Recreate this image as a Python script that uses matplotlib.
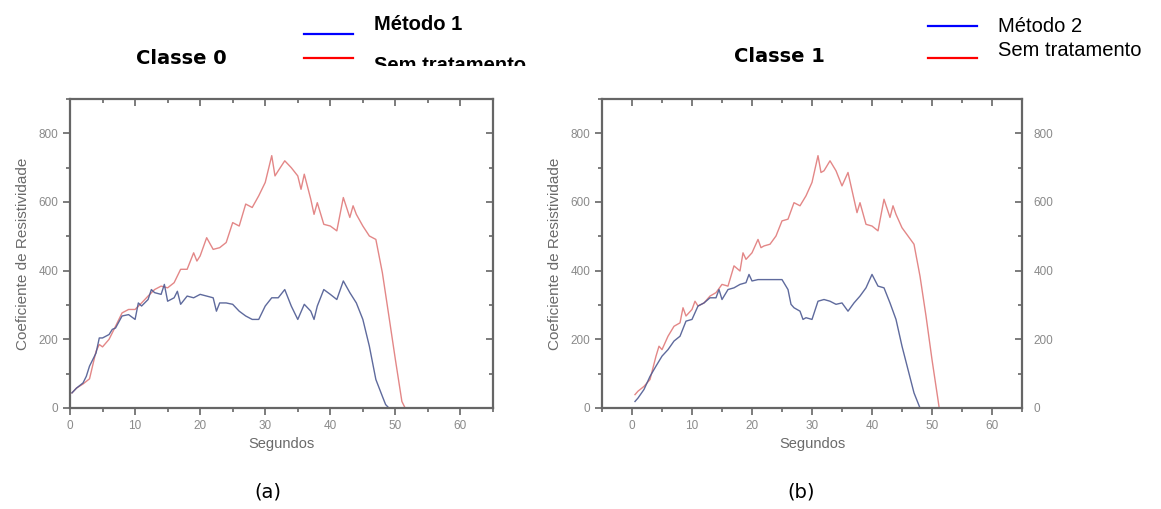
import matplotlib
matplotlib.use("Agg")
import matplotlib.pyplot as plt
from matplotlib.lines import Line2D
from matplotlib.ticker import MultipleLocator
from matplotlib.transforms import Bbox, TransformedBbox

# ── Data ──
# Classe 0, "Sem tratamento"
x_sem0 = [0.3, 1, 2, 3, 4, 4.5, 5, 6, 7, 8, 9, 10, 11, 12, 13, 14, 15, 16, 17, 18,
          19, 19.5, 20, 21, 22, 23, 24, 25, 26, 27, 28, 29, 30, 31, 31.5, 32, 33, 34,
          35, 35.5, 36, 37, 37.5, 38, 39, 40, 41, 42, 43, 43.5, 44, 45, 46, 47, 48,
          49, 50, 51, 51.5]
y_sem0 = [44, 58, 70, 85, 165, 185, 178, 200, 238, 277, 287, 287, 306, 326, 345, 355,
          350, 365, 404, 404, 452, 428, 443, 496, 462, 467, 482, 540, 530, 594, 584,
          618, 657, 735, 676, 691, 720, 700, 676, 637, 681, 608, 564, 598, 535, 530,
          516, 613, 555, 589, 564, 530, 501, 491, 394, 268, 141, 19, 0]

# Classe 0, "Método 1"
x_met1 = [0.3, 1, 2, 2.5, 3, 4, 4.5, 5, 6, 6.5, 7, 8, 9, 10, 10.5, 11, 12, 12.5, 13,
          14, 14.5, 15, 16, 16.5, 17, 18, 19, 20, 21, 22, 22.5, 23, 24, 25, 26, 27,
          28, 29, 30, 31, 32, 33, 34, 35, 36, 37, 37.5, 38, 39, 40, 41, 42, 43, 44,
          45, 46, 47, 48, 48.5, 49]
y_met1 = [44, 58, 73, 92, 122, 160, 204, 204, 214, 229, 233, 268, 272, 258, 306, 297,
          316, 345, 336, 331, 360, 311, 321, 340, 302, 326, 321, 331, 326, 321, 282,
          306, 306, 302, 282, 268, 258, 258, 297, 321, 321, 345, 297, 258, 302, 282,
          258, 297, 345, 331, 316, 370, 336, 306, 258, 180, 83, 34, 10, 0]

# Classe 1, "Sem tratamento"
x_sem1 = [0.5, 1, 2, 3, 4, 4.5, 5, 6, 7, 8, 8.5, 9, 10, 10.5, 11, 12, 13, 14, 15, 16,
          17, 18, 18.5, 19, 20, 21, 21.5, 22, 23, 24, 25, 26, 27, 28, 29, 30, 31,
          31.5, 32, 33, 34, 35, 36, 37, 37.5, 38, 39, 40, 41, 42, 43, 43.5, 44, 45,
          46, 47, 48, 49, 50, 51, 51.2]
y_sem1 = [39, 49, 63, 83, 151, 180, 170, 209, 238, 248, 292, 268, 287, 311, 297, 306,
          326, 336, 360, 355, 414, 399, 452, 433, 452, 491, 467, 472, 477, 501, 545,
          550, 598, 589, 618, 657, 735, 686, 691, 720, 691, 647, 686, 608, 569, 598,
          535, 530, 516, 608, 555, 589, 564, 525, 501, 477, 384, 268, 141, 24, 0]

# Classe 1, "Método 2"
x_met2 = [0.5, 1, 2, 3, 4, 5, 6, 7, 8, 9, 10, 11, 12, 13, 14, 14.5, 15, 16, 17, 18,
          19, 19.5, 20, 21, 25, 26, 26.5, 27, 28, 28.5, 29, 30, 31, 32, 33, 34, 35,
          36, 37, 38, 39, 40, 41, 42, 43, 44, 45, 46, 47, 48, 50]
y_met2 = [19, 29, 54, 92, 122, 151, 170, 195, 209, 253, 258, 297, 306, 321, 321, 345,
          316, 345, 350, 360, 365, 389, 370, 374, 374, 345, 302, 292, 282, 258, 263,
          258, 311, 316, 311, 302, 306, 282, 306, 326, 350, 389, 355, 350, 306, 258,
          180, 112, 44, 0, 0]

RED = "#e07a7a"
BLUE = "#4d5a92"
FRAME = "#666666"
TICK_TXT = "#8a8a8a"
LABEL_TXT = "#6a6a6a"

plt.rcParams["font.family"] = ["Liberation Sans", "DejaVu Sans"]

W, H = 1161, 509
fig = plt.figure(figsize=(W / 100, H / 100), dpi=100)
fig.set_facecolor("white")


def px(x, y):
    """Pixel (top-left origin) -> figure fraction."""
    return x / W, 1 - y / H


def make_panel(left, right, xmin, series, right_labels):
    x0, y1 = px(left, 408)
    x1, y0 = px(right, 99)
    ax = fig.add_axes([x0, y1, x1 - x0, y0 - y1])
    for xs, ys, c in series:
        ax.plot(xs, ys, color=c, lw=1.0, alpha=0.9)
    ax.set_xlim(xmin, 65)
    ax.set_ylim(0, 900)
    ax.xaxis.set_major_locator(MultipleLocator(10))
    ax.xaxis.set_minor_locator(MultipleLocator(5))
    ax.yaxis.set_major_locator(MultipleLocator(200))
    ax.yaxis.set_minor_locator(MultipleLocator(100))
    for s in ax.spines.values():
        s.set_color(FRAME)
        s.set_linewidth(1.6)
    ax.tick_params(which="both", color=FRAME, width=1.2, labelsize=8.5,
                   labelcolor=TICK_TXT, top=True, right=True,
                   labelright=right_labels, direction="out")
    ax.tick_params(which="major", length=5)
    ax.tick_params(which="minor", length=3)
    # top / right ticks point inward as in the scan
    for t in ax.xaxis.get_major_ticks() + ax.xaxis.get_minor_ticks():
        t.tick2line.set_marker(3)
    for t in ax.yaxis.get_major_ticks() + ax.yaxis.get_minor_ticks():
        t.tick2line.set_marker(0)
    ax.set_xlabel("Segundos", fontsize=10.5, color=LABEL_TXT, labelpad=4)
    ax.set_ylabel("Coeficiente de Resistividade", fontsize=11,
                  color=LABEL_TXT, labelpad=6)
    return ax


axL = make_panel(70, 493, 0, [(x_sem0, y_sem0, RED), (x_met1, y_met1, BLUE)], False)
axR = make_panel(602, 1022, -5, [(x_sem1, y_sem1, RED), (x_met2, y_met2, BLUE)], True)

# ── Titles ──
fig.text(*px(181, 59), "Classe 0", fontsize=14, fontweight="bold",
         family="DejaVu Sans", ha="center", va="center")
fig.text(*px(779, 57), "Classe 1", fontsize=14, fontweight="bold",
         family="DejaVu Sans", ha="center", va="center")

# ── Legend (left panel, bold) ──
for y, c in [(34, "#0000ff"), (58, "#ff0000")]:
    fig.add_artist(Line2D([304 / W, 353 / W], [1 - y / H, 1 - y / H],
                          color=c, lw=1.6))
fig.text(*px(374, 25), "Método 1", fontsize=14.5, fontweight="bold",
         ha="left", va="center")
t = fig.text(*px(374, 71), "Sem tratamento", fontsize=14.5, fontweight="bold",
             ha="left", va="baseline")
clip = TransformedBbox(Bbox([[0, 1 - 66 / H], [1, 1]]), fig.transFigure)
t.set_clip_box(clip)
t.set_clip_on(True)

# ── Legend (right panel, regular) ──
for y, c in [(26, "#0000ff"), (58, "#ff0000")]:
    fig.add_artist(Line2D([928 / W, 977 / W], [1 - y / H, 1 - y / H],
                          color=c, lw=1.6))
fig.text(*px(998, 26), "Método 2", fontsize=14.5, ha="left", va="center")
fig.text(*px(998, 50), "Sem tratamento", fontsize=14.5, ha="left", va="center")

# ── Panel captions ──
fig.text(*px(268, 492), "(a)", fontsize=14, family="DejaVu Sans",
         ha="center", va="center")
fig.text(*px(801, 492), "(b)", fontsize=14, family="DejaVu Sans",
         ha="center", va="center")

fig.savefig("out.png", dpi=100, facecolor="white")
